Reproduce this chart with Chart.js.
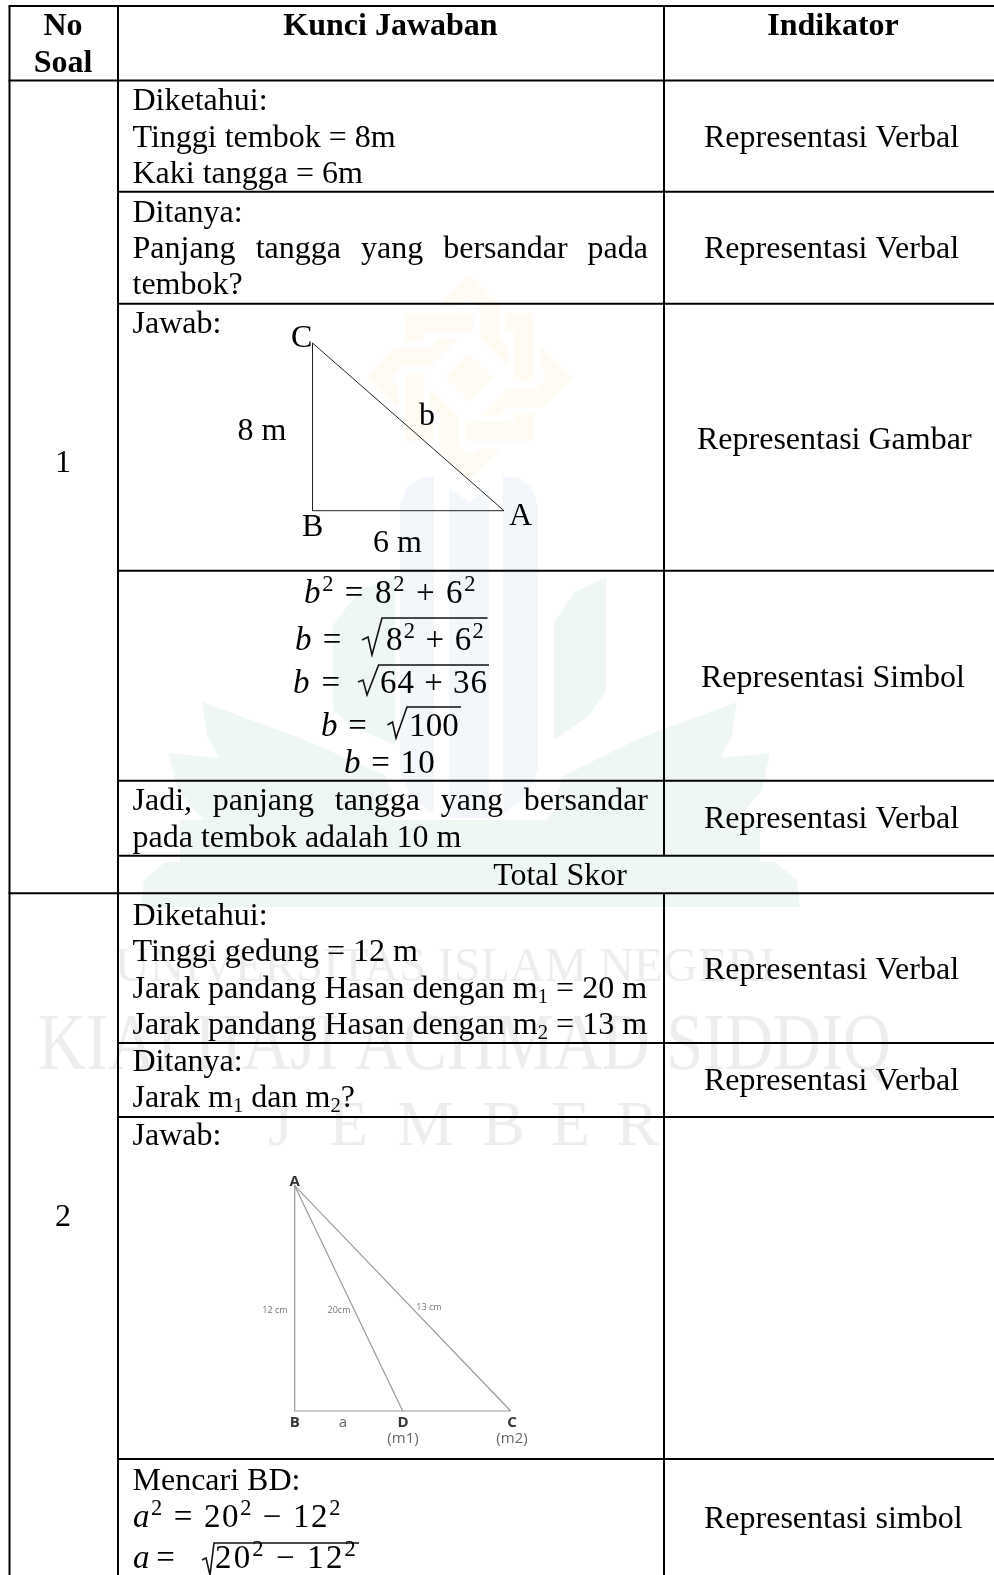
<!DOCTYPE html>
<html>
<head>
<meta charset="utf-8">
<title>Kunci Jawaban</title>
<script src="https://cdn.jsdelivr.net/npm/chart.js@4"></script>
<style>
  html, body { margin: 0; padding: 0; background: #fff; }
  canvas { display: block; }
</style>
</head>
<body>
<canvas id="answerTable" width="994" height="1575"></canvas>
<script>
// table rules, page pixels
const columnEdges = [9.5, 118, 664];
const fullRules = [6, 893.3];
const headerRule = [80.5];
const innerRules = [191.7, 303.7, 570.7, 780.7, 855.7, 1043, 1117, 1459];

// header and first column
const headerLabels = ['No', 'Soal', 'Kunci Jawaban', 'Indikator'];
const headerCentres = [63, 63, 390.5, 833];
const headerBaselines = [35, 72, 35, 35];
const questionNumbers = ['1', '2'];
const questionBaselines = [472, 1226];

// middle column text
const answerLines = ['Diketahui:', 'Tinggi tembok = 8m', 'Kaki tangga = 6m', 'Ditanya:', 'tembok?', 'Jawab:',
  'pada tembok adalah 10 m', 'Diketahui:', 'Tinggi gedung = 12 m', 'Jarak pandang Hasan dengan m_1 = 20 m',
  'Jarak pandang Hasan dengan m_2 = 13 m', 'Ditanya:', 'Jarak m_1 dan m_2?', 'Jawab:', 'Mencari BD:'];
const answerBaselines = [110, 147, 183, 222, 294, 333, 847, 925, 961, 998, 1034, 1071, 1107, 1145, 1490];
const justifiedLines = ['Panjang tangga yang bersandar pada', 'Jadi, panjang tangga yang bersandar'];
const justifiedBaselines = [258, 810];
const totalLabel = 'Total Skor';

// right column text
const indicatorLabels = ['Representasi Verbal', 'Representasi Verbal', 'Representasi Gambar', 'Representasi Simbol',
  'Representasi Verbal', 'Representasi Verbal', 'Representasi Verbal', 'Representasi simbol'];
const indicatorStarts = [704, 704, 697, 701, 704, 704, 704, 704];
const indicatorBaselines = [147, 258, 449, 687, 828, 979, 1090, 1528];

// equations: text, left edge, right edge, baseline
const equationTexts = ['~b^2 = 8^2 + 6^2', '~b =', '8^2 + 6^2', '~b =', '64 + 36', '~b =', '100', '~b = 10',
  '~a^2 = 20^2 \u2212 12^2', '~a =', '20^2 \u2212 12^2'];
const equationLefts = [304, 295, 386, 293, 380, 321, 409, 344, 133, 133, 215];
const equationRights = [477, 343, 485, 342, 488, 368, 459, 436, 342, 174, 358];
const equationBaselines = [603, 650, 650, 693, 693, 736, 736, 773, 1527, 1568, 1568];

// radical signs drawn over the equations
const radicals = [
  [[362, 640], [368, 637], [372, 655], [382, 618], [487.5, 618]],
  [[358, 682], [363, 680], [367, 695], [378.6, 665], [489, 665]],
  [[387.5, 725], [392.5, 722], [396, 738], [407, 707], [461, 707]],
  [[202, 1560], [206, 1558], [210, 1575], [214, 1543], [359, 1543]]
];

// first triangle
const triangleOne = [[312.5, 343], [312.5, 510.7], [504, 510.7], [312.5, 343]];
const triangleOneLabels = ['C', '8 m', 'b', 'B', 'A', '6 m'];
const triangleOneX = [291, 237.5, 419, 302, 509, 373];
const triangleOneY = [347, 440, 425, 536, 525, 552];

// second triangle (pasted picture)
const triangleTwo = [[510.7, 1411], [294.7, 1185.7], [294.7, 1411], [510.7, 1411]];
const triangleTwoInner = [[294.7, 1185.7], [402.7, 1411]];
const pictureLabels = ['A', 'B', 'D', 'C', 'a', '(m1)', '(m2)', '12 cm', '20cm', '13 cm'];
const pictureX = [294.7, 294.7, 403, 512, 343, 403, 512, 275, 339, 429];
const pictureY = [1186, 1427, 1427, 1427, 1427, 1443, 1443, 1313, 1313, 1310];

// watermark
const knotCentre = [469.3, 377.3];
const knotHook = [[-29, -74], [0, -103], [30, -74], [30, -39], [39, -29], [39, -11], [11, -39], [11, -67], [0, -78], [-11, -71], [-29, -71]];
const knotPlate = [[36, -64], [64, -64], [64, 4], [45, 4], [45, -46], [36, -46]];
const knotDiamond = [[0, -24], [24, 0], [0, 24], [-24, 0]];
const blueShapes = [
  [[434, 476], [420, 478], [407, 487], [400, 505], [400, 770], [410, 795], [434, 815]],
  [[449, 488], [469, 502], [489, 488], [489, 818], [449, 818]],
  [[503, 476], [518, 478], [531, 487], [538, 505], [538, 770], [528, 795], [503, 815]]
];
const greenShapes = [
  [[395, 577], [360, 590], [333, 625], [333, 710], [350, 725], [395, 745]],
  [[606, 577], [575, 592], [554, 622], [554, 740], [590, 715], [606, 690]],
  [[202, 702], [300, 738], [385, 775], [395, 800], [330, 815], [270, 800], [225, 770], [207, 735]],
  [[737, 702], [640, 738], [565, 775], [554, 800], [610, 815], [670, 800], [715, 770], [732, 735]],
  [[168, 753], [290, 765], [370, 790], [395, 822], [205, 822], [178, 790]],
  [[770, 753], [650, 765], [570, 790], [545, 822], [735, 822], [762, 790]],
  [[180, 820], [760, 820], [760, 864], [180, 864]],
  [[165, 862], [775, 862], [797, 880], [800, 907], [141, 907], [144, 880]]
];
const watermarkLines = ['UNIVERSITAS ISLAM NEGERI', 'KIAI HAJI ACHMAD SIDDIQ'];
const watermarkLefts = [115, 38];
const watermarkWidths = [700, 853];
const watermarkBaselines = [981, 1069];
const watermarkCity = ['J', 'E', 'M', 'B', 'E', 'R'];
const watermarkCityX = [268, 329, 397, 482, 551, 616];

const SERIF = '"Liberation Serif"';

function toPoints(list) { return list.map(p => ({ x: p[0], y: p[1] })); }
function turn(p, times) {
  let [x, y] = p;
  for (let i = 0; i < times; i++) [x, y] = [-y, x];
  return [knotCentre[0] + x, knotCentre[1] + y];
}
function closed(list) { return toPoints(list.concat([list[0]])); }

function shape(list, colour) {
  return { data: closed(list), showLine: true, fill: 'shape', backgroundColor: colour, borderWidth: 0, pointRadius: 0, order: 9 };
}
function rule(list, width, colour) {
  return { data: toPoints(list), showLine: true, fill: false, borderColor: colour || '#000', borderWidth: width, pointRadius: 0, order: 1, borderCapStyle: 'butt' };
}

const datasets = [];
[0, 1, 2, 3].forEach(t => {
  datasets.push(shape(knotHook.map(p => turn(p, t)), '#fffbf3'));
  datasets.push(shape(knotPlate.map(p => turn(p, t)), '#fffbf3'));
});
datasets.push(shape(knotDiamond.map(p => turn(p, 0)), '#fffbf3'));
greenShapes.forEach(s => datasets.push(shape(s, '#eff7f3')));
blueShapes.forEach(s => datasets.push(shape(s, '#f3f7fc')));

fullRules.forEach(y => datasets.push(rule([[columnEdges[0] - 1, y], [994, y]], 2)));
headerRule.forEach(y => datasets.push(rule([[columnEdges[0] - 1, y], [994, y]], 2)));
innerRules.forEach(y => datasets.push(rule([[columnEdges[1], y], [994, y]], 2)));
datasets.push(rule([[columnEdges[0], 6], [columnEdges[0], 1575]], 2));
datasets.push(rule([[columnEdges[1], 6], [columnEdges[1], 1575]], 2));
datasets.push(rule([[columnEdges[2], 6], [columnEdges[2], 855.7]], 2));
datasets.push(rule([[columnEdges[2], 893.3], [columnEdges[2], 1575]], 2));
radicals.forEach(r => datasets.push(rule(r, 1.6, '#111')));
datasets.push(rule(triangleOne, 1, '#222'));
datasets.push(rule(triangleTwo, 1.2, '#999'));
datasets.push(rule(triangleTwoInner, 1.2, '#999'));

// text with ^2 superscripts, _1 subscripts and ~b italics
function tokens(text) {
  return text.split(/(\^\d|_\d|~[a-z])/).filter(Boolean).map(t => {
    if (t[0] === '^') return { t: t[1], size: 0.68, rise: 0.36, style: '' };
    if (t[0] === '_') return { t: t[1], size: 0.65, rise: -0.16, style: '' };
    if (t[0] === '~') return { t: t[1], size: 1, rise: 0, style: 'italic ' };
    return { t, size: 1, rise: 0, style: '' };
  });
}
function richWidth(ctx, parts, size) {
  return parts.reduce((sum, p) => {
    ctx.font = p.style + (size * p.size) + 'px ' + SERIF;
    return sum + ctx.measureText(p.t).width;
  }, 0);
}
function drawRich(ctx, text, x, y, size, targetWidth) {
  const parts = tokens(text);
  let spacing = 0;
  ctx.letterSpacing = '0px';
  if (targetWidth) {
    const count = parts.reduce((n, p) => n + p.t.length, 0);
    spacing = (targetWidth - richWidth(ctx, parts, size)) / count;
  }
  ctx.letterSpacing = spacing + 'px';
  let cursor = x;
  parts.forEach(p => {
    ctx.font = p.style + (size * p.size) + 'px ' + SERIF;
    ctx.fillText(p.t, cursor, y - p.rise * size);
    cursor += ctx.measureText(p.t).width;
  });
  ctx.letterSpacing = '0px';
}

const tablePlugin = {
  id: 'tableText',
  beforeDatasetsDraw(chart) {
    const ctx = chart.ctx, X = v => chart.scales.x.getPixelForValue(v), Y = v => chart.scales.y.getPixelForValue(v);
    ctx.save();
    ctx.fillStyle = '#ededed';
    ctx.textAlign = 'left';
    ctx.font = '48px ' + SERIF;
    ctx.fillText(watermarkLines[0], X(watermarkLefts[0]), Y(watermarkBaselines[0]), watermarkWidths[0]);
    ctx.font = '80px ' + SERIF;
    ctx.fillText(watermarkLines[1], X(watermarkLefts[1]), Y(watermarkBaselines[1]), watermarkWidths[1]);
    ctx.font = '64px ' + SERIF;
    watermarkCity.forEach((c, i) => ctx.fillText(c, X(watermarkCityX[i]), Y(1145)));
    ctx.restore();
  },
  afterDatasetsDraw(chart) {
    const ctx = chart.ctx, X = v => chart.scales.x.getPixelForValue(v), Y = v => chart.scales.y.getPixelForValue(v);
    ctx.save();
    ctx.textBaseline = 'alphabetic';
    ctx.fillStyle = '#000';

    ctx.textAlign = 'center';
    ctx.font = 'bold 32px ' + SERIF;
    headerLabels.forEach((t, i) => ctx.fillText(t, X(headerCentres[i]), Y(headerBaselines[i])));
    ctx.font = '32px ' + SERIF;
    questionNumbers.forEach((t, i) => ctx.fillText(t, X(63), Y(questionBaselines[i])));
    ctx.fillText(totalLabel, X(560), Y(885));

    ctx.textAlign = 'left';
    answerLines.forEach((t, i) => drawRich(ctx, t, X(132.5), Y(answerBaselines[i]), 32));
    ctx.font = '32px ' + SERIF;
    justifiedLines.forEach((t, i) => {
      ctx.wordSpacing = '0px';
      const gaps = t.split(' ').length - 1;
      ctx.wordSpacing = ((515.5 - ctx.measureText(t).width) / gaps) + 'px';
      ctx.fillText(t, X(132.5), Y(justifiedBaselines[i]));
      ctx.wordSpacing = '0px';
    });
    indicatorLabels.forEach((t, i) => ctx.fillText(t, X(indicatorStarts[i]), Y(indicatorBaselines[i])));
    triangleOneLabels.forEach((t, i) => ctx.fillText(t, X(triangleOneX[i]), Y(triangleOneY[i])));
    equationTexts.forEach((t, i) => drawRich(ctx, t, X(equationLefts[i]), Y(equationBaselines[i]), 33, equationRights[i] - equationLefts[i]));

    ctx.textAlign = 'center';
    pictureLabels.forEach((t, i) => {
      if (i < 4) { ctx.font = 'bold 15px "Open Sans"'; ctx.fillStyle = '#333'; }
      else if (i < 7) { ctx.font = '15px "Open Sans"'; ctx.fillStyle = '#666'; }
      else { ctx.font = '9px "Open Sans"'; ctx.fillStyle = '#777'; }
      ctx.fillText(t, X(pictureX[i]), Y(pictureY[i]));
    });
    ctx.restore();
  }
};

new Chart(document.getElementById('answerTable'), {
  type: 'scatter',
  data: { datasets },
  plugins: [tablePlugin],
  options: {
    responsive: false,
    animation: false,
    layout: { padding: 0 },
    plugins: { legend: { display: false }, tooltip: { enabled: false } },
    scales: {
      x: { type: 'linear', min: 0, max: 994, display: false },
      y: { type: 'linear', min: 0, max: 1575, reverse: true, display: false }
    }
  }
});
</script>
</body>
</html>
